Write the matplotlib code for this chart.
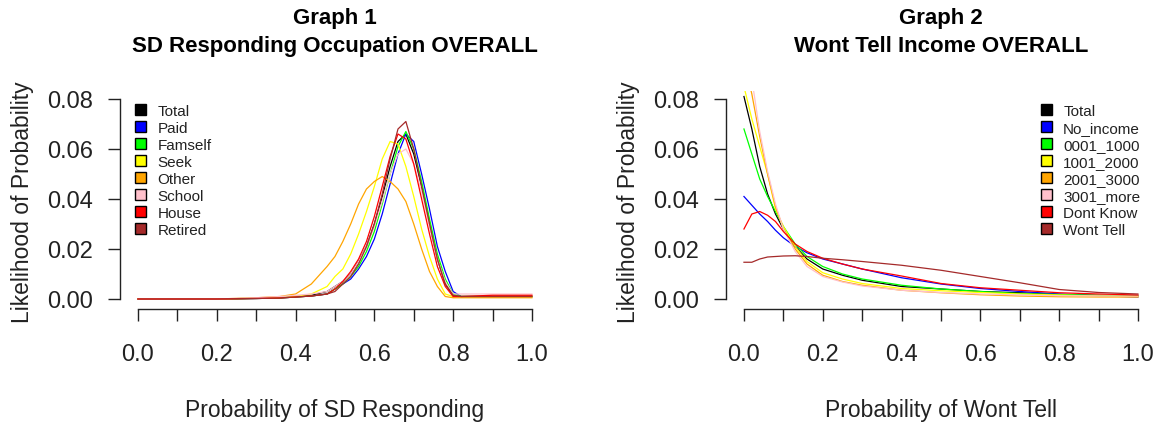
import matplotlib
matplotlib.use("Agg")
import matplotlib.pyplot as plt
from matplotlib.patches import Patch

plt.rcParams['font.family'] = ['Liberation Sans', 'DejaVu Sans']

# ---------------- data: Graph 1 ----------------
titles = ["Graph 1\nSD Responding Occupation OVERALL",
          "Graph 2\nWont Tell Income OVERALL"]
xlabels = ["Probability of SD Responding", "Probability of Wont Tell"]
ylabel = "Likelihood of Probability"

x_ticks = [0.0, 0.1, 0.2, 0.3, 0.4, 0.5, 0.6, 0.7, 0.8, 0.9, 1.0]
x_tick_labels = ["0.0", "", "0.2", "", "0.4", "", "0.6", "", "0.8", "", "1.0"]
y_ticks = [0.00, 0.02, 0.04, 0.06, 0.08]
y_tick_labels = ["0.00", "0.02", "0.04", "0.06", "0.08"]

occ_labels = ["Total", "Paid", "Famself", "Seek", "Other", "School", "House", "Retired"]
occ_colors = ["black", "blue", "#00FF00", "#FFFF00", "#FFA500", "#FFC0CB", "red", "#A52A2A"]

x_occ = [0.00, 0.10, 0.20, 0.30, 0.36, 0.40, 0.44, 0.48, 0.50, 0.52, 0.54, 0.56, 0.58,
         0.60, 0.62, 0.64, 0.66, 0.68, 0.70, 0.72, 0.74, 0.76, 0.78, 0.80, 0.82, 0.90, 1.00]

occ_total = [0, 0, 0, 0.0003, 0.0005, 0.001, 0.0015, 0.003, 0.005, 0.007, 0.010, 0.015, 0.021,
             0.030, 0.041, 0.053, 0.063, 0.066, 0.058, 0.045, 0.030, 0.016, 0.006, 0.0015, 0.001, 0.001, 0.001]
occ_paid = [0, 0, 0, 0.0002, 0.0004, 0.0008, 0.0012, 0.002, 0.004, 0.006, 0.008, 0.012, 0.017,
            0.024, 0.034, 0.046, 0.058, 0.066, 0.063, 0.050, 0.036, 0.021, 0.011, 0.003, 0.001, 0.001, 0.001]
occ_famself = [0, 0, 0, 0.0002, 0.0004, 0.0008, 0.0012, 0.002, 0.004, 0.006, 0.009, 0.013, 0.019,
               0.027, 0.038, 0.050, 0.061, 0.067, 0.060, 0.047, 0.032, 0.018, 0.008, 0.002, 0.001, 0.001, 0.001]
occ_seek = [0, 0, 0, 0.0003, 0.0006, 0.001, 0.002, 0.005, 0.009, 0.012, 0.018, 0.026, 0.035,
            0.045, 0.056, 0.063, 0.062, 0.053, 0.041, 0.028, 0.017, 0.008, 0.002, 0.001, 0.001, 0.001, 0.001]
occ_other = [0, 0, 0, 0.0005, 0.001, 0.002, 0.006, 0.013, 0.017, 0.023, 0.030, 0.038, 0.044,
             0.047, 0.049, 0.047, 0.044, 0.039, 0.030, 0.020, 0.011, 0.005, 0.001, 0.0005, 0.0005, 0.0005, 0.0005]
occ_school = [0, 0, 0, 0.0005, 0.001, 0.0015, 0.002, 0.003, 0.005, 0.007, 0.010, 0.015, 0.021,
              0.029, 0.039, 0.050, 0.058, 0.060, 0.054, 0.043, 0.029, 0.016, 0.007, 0.002, 0.002, 0.002, 0.002]
occ_house = [0, 0, 0, 0.0002, 0.0004, 0.0008, 0.0012, 0.002, 0.004, 0.007, 0.011, 0.016, 0.023,
             0.033, 0.045, 0.057, 0.066, 0.064, 0.054, 0.040, 0.026, 0.013, 0.005, 0.001, 0.001, 0.0015, 0.0015]
occ_retired = [0, 0, 0, 0.0002, 0.0004, 0.0008, 0.0012, 0.002, 0.003, 0.006, 0.009, 0.014, 0.021,
               0.030, 0.042, 0.056, 0.068, 0.071, 0.060, 0.045, 0.030, 0.016, 0.006, 0.0015, 0.001, 0.001, 0.001]

# ---------------- data: Graph 2 ----------------
inc_labels = ["Total", "No_income", "0001_1000", "1001_2000", "2001_3000", "3001_more", "Dont Know", "Wont Tell"]
inc_colors = occ_colors

x_inc = [0.00, 0.02, 0.04, 0.06, 0.08, 0.10, 0.13, 0.16, 0.20, 0.25, 0.30, 0.40, 0.50, 0.60, 0.70, 0.80, 0.90, 1.00]

inc_total = [0.081, 0.068, 0.053, 0.042, 0.034, 0.028, 0.021, 0.016, 0.012, 0.0095, 0.0075,
             0.005, 0.004, 0.003, 0.0025, 0.0018, 0.0014, 0.0012]
inc_noincome = [0.041, 0.0375, 0.034, 0.031, 0.0275, 0.0245, 0.021, 0.0185, 0.016, 0.014, 0.012,
                0.0085, 0.006, 0.0042, 0.003, 0.002, 0.0013, 0.0008]
inc_0001_1000 = [0.068, 0.058, 0.048, 0.041, 0.035, 0.029, 0.022, 0.017, 0.013, 0.010, 0.008,
                 0.0055, 0.004, 0.003, 0.0022, 0.0018, 0.0015, 0.0012]
inc_1001_2000 = [0.085, 0.072, 0.061, 0.050, 0.036, 0.029, 0.021, 0.015, 0.0105, 0.008, 0.0062,
                 0.0042, 0.0033, 0.0026, 0.002, 0.0016, 0.0012, 0.001]
inc_2001_3000 = [0.095, 0.082, 0.065, 0.050, 0.037, 0.028, 0.020, 0.014, 0.0095, 0.007, 0.0055,
                 0.0035, 0.0025, 0.0017, 0.0012, 0.0009, 0.0008, 0.0008]
inc_3001_more = [0.11, 0.088, 0.067, 0.051, 0.038, 0.028, 0.019, 0.013, 0.009, 0.0068, 0.0052,
                 0.0035, 0.0026, 0.002, 0.0016, 0.0013, 0.0012, 0.0012]
inc_dontknow = [0.028, 0.034, 0.035, 0.0335, 0.031, 0.027, 0.022, 0.019, 0.0163, 0.014, 0.012,
                0.0092, 0.0062, 0.0045, 0.0035, 0.0025, 0.002, 0.0016]
inc_wonttell = [0.0147, 0.0147, 0.016, 0.0168, 0.017, 0.0172, 0.0173, 0.017, 0.0163, 0.0157, 0.015,
                0.0135, 0.0115, 0.009, 0.0065, 0.0038, 0.0026, 0.002]

occ_series = [occ_total, occ_paid, occ_famself, occ_seek, occ_other, occ_school, occ_house, occ_retired]
inc_series = [inc_total, inc_noincome, inc_0001_1000, inc_1001_2000, inc_2001_3000, inc_3001_more,
              inc_dontknow, inc_wonttell]

# ---------------- figure ----------------
W, H = 1159, 427
fig = plt.figure(figsize=(W / 100, H / 100), dpi=100)


def px_axes(left, top, width, height):
    return fig.add_axes([left / W, (H - top - height) / H, width / W, height / H])


panels = [
    (px_axes(122.2, 92, 425.5, 216), x_occ, occ_series, occ_labels, occ_colors, 0.030),
    (px_axes(728.2, 92, 425.5, 216), x_inc, inc_series, inc_labels, inc_colors, 0.734),
]

for i, (ax, xs, series, labels, colors, leg_x) in enumerate(panels):
    for ys, lab, col in zip(series, labels, colors):
        ax.plot(xs, ys, color=col, lw=0.9, label=lab)
    ax.set_xlim(-0.04, 1.04)
    ax.set_ylim(-0.0032, 0.0832)

    for s in ("top", "right"):
        ax.spines[s].set_visible(False)
    ax.spines["left"].set_bounds(0, 0.08)
    ax.spines["bottom"].set_bounds(0, 1)
    ax.spines["left"].set_position(("outward", 1.5))
    ax.spines["bottom"].set_position(("outward", 1.5))
    for s in ("left", "bottom"):
        ax.spines[s].set_linewidth(1.0)
        ax.spines[s].set_color("#222222")

    ax.set_xticks(x_ticks)
    ax.set_xticklabels(x_tick_labels)
    ax.set_yticks(y_ticks)
    ax.set_yticklabels(y_tick_labels)
    ax.tick_params(axis="both", length=8.6, width=1.0, color="#222222", labelsize=17,
                   labelcolor="#222222")
    ax.tick_params(axis="x", pad=16)
    ax.tick_params(axis="y", pad=11)

    ax.set_xlabel(xlabels[i], fontsize=16.5, color="#222222", va="center")
    ax.xaxis.set_label_coords(0.5, -0.475)
    ax.set_ylabel(ylabel, fontsize=16.5, color="#222222", va="center", rotation_mode="default")
    ax.yaxis.set_label_coords(-0.235, 0.49)

    ax.set_title(titles[i], fontsize=16, fontweight="bold", y=1.276, va="center", pad=0,
                 linespacing=1.45)

    handles = [Patch(facecolor=c, edgecolor="black", linewidth=1.0) for c in colors]
    ax.legend(handles, labels, loc="upper left", bbox_to_anchor=(leg_x, 0.942),
              bbox_transform=ax.transAxes, frameon=False, borderpad=0, borderaxespad=0,
              handlelength=0.72, handleheight=0.72, handletextpad=0.76,
              labelspacing=0.2, fontsize=11, labelcolor="#222222")

fig.savefig("out.png", dpi=100)
